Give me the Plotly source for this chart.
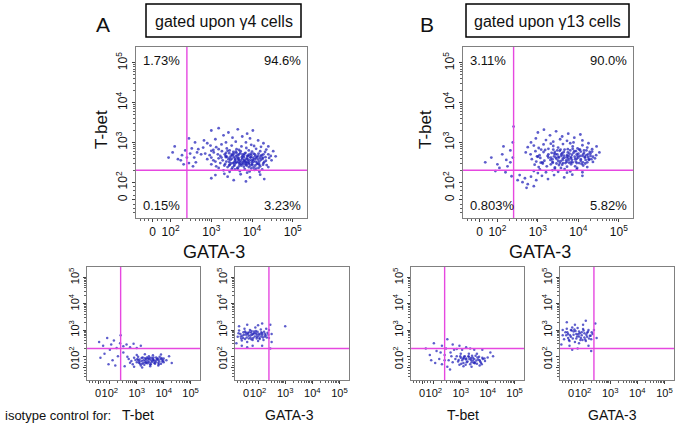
import math
import plotly.graph_objects as go

W, H = 678, 427

# ---------------- data (display units on a biexponential scale: 2 -> 10^2, 3 -> 10^3 ...) -------------
tick_vals = [1.56, 2, 3, 4, 5]
tick_text = ["0", "10<sup>2</sup>", "10<sup>3</sup>", "10<sup>4</sup>", "10<sup>5</sup>"]

# gate positions (display units)
gate_x = 2.4
gate_y = 2.3

pct_g4 = ["1.73%", "94.6%", "0.15%", "3.23%"]      # UL, UR, LL, LR
pct_g13 = ["3.11%", "90.0%", "0.803%", "5.82%"]

# gamma4 cells: GATA-3 (x) vs T-bet (y), values x100
g4_points = [
    (300,330),(318,336),(342,325),(365,333),(388,322),(402,330),(330,318),(352,312),(376,315),(395,310),
    (310,308),(282,305),(415,305),(428,298),(290,298),(336,300),(360,302),(385,300),
    (298,292),(312,288),(325,295),(338,285),(350,292),(362,283),(374,290),(386,286),(398,294),(410,284),
    (422,289),(435,282),(305,281),(318,283),(345,280),(368,281),(392,280),(405,291),(280,287),(268,283),(440,290),
    (285,272),(296,268),(306,275),(316,270),(326,278),(335,266),(344,273),(352,268),(360,277),(368,270),
    (376,265),(384,274),(392,269),(400,277),(408,266),(416,272),(424,268),(432,276),(440,270),(300,279),
    (322,266),(340,279),(356,272),(372,278),(388,266),(404,272),(420,278),(446,266),(275,270),(265,275),
    (290,258),(300,262),(310,252),(318,260),(328,255),(336,263),(344,251),(350,259),(358,254),(364,262),
    (370,250),(376,258),(382,253),(388,261),(394,255),(400,250),(406,258),(412,263),(418,252),(426,259),
    (434,254),(442,261),(305,255),(325,262),(347,256),(366,257),(385,251),(397,263),(415,257),(430,251),
    (355,264),(375,262),(390,257),(372,254),(362,251),(380,263),
    (300,245),(312,240),(322,248),(332,242),(340,238),(348,247),(356,241),(364,236),(372,245),(380,239),
    (388,248),(396,242),(404,237),(412,246),(420,240),(428,248),(436,243),(318,236),(345,244),(368,240),
    (385,244),(400,246),(416,236),(376,249),(360,248),(392,238),(352,237),(408,242),(440,238),
    (330,230),(345,226),(358,232),(370,228),(382,233),(394,227),(406,231),(418,226),(365,234),(388,224),
    (410,234),(350,233),(425,232),(398,235),
    (310,218),(340,214),(372,220),(395,212),(420,219),(355,205),(300,210),(430,208),(385,202),(332,221),
    (195,262),(205,275),(218,258),(228,268),(236,280),(210,290),(225,255),(240,262),(248,272),(252,285),
    (258,262),(262,250),(245,248),(232,245),(255,240),(245,310),(260,300),
    (452,278),(458,265),(448,255),
    (345,262),(353,248),(361,266),(369,246),(377,270),(383,247),(391,266),(399,255),(407,270),(413,249),
    (421,266),(427,244),(337,252),(333,270),(397,272),(409,252),(371,273),(359,257),(381,256),(403,262),
    (393,249),(365,268),(351,270),(419,261),(433,263),(387,242),(379,252),(367,261),(357,244),(401,243),
    (334,246),(342,258),(348,266),(356,250),(362,274),(368,256),(374,242),(380,268),(386,258),(392,246),
    (398,268),(404,252),(410,260),(416,246),(422,256),(428,270),(336,274),(344,242),(358,260),(366,250),
    (378,246),(390,252),(402,256),(414,266),(426,262),(338,264),(354,276),(382,272),(396,262),(418,244),
]

# gamma13 cells
g13_points = [
    (300,325),(315,332),(330,318),(345,328),(360,315),(375,322),(390,312),(405,320),(320,306),(338,302),
    (355,308),(372,304),(388,300),(410,305),(295,310),(425,298),(283,300),
    (290,292),(302,286),(314,295),(326,284),(338,291),(350,287),(362,296),(374,283),(386,290),(398,285),
    (410,293),(422,287),(434,283),(308,282),(332,297),(356,282),(380,298),(404,282),(275,288),(445,290),
    (282,270),(294,278),(304,268),(314,276),(324,266),(334,274),(344,270),(354,279),(364,267),(374,275),
    (384,269),(394,278),(404,266),(414,274),(424,270),(434,277),(444,268),(298,265),(318,281),(340,265),
    (360,273),(380,280),(400,272),(420,280),(430,266),(270,275),(452,275),
    (285,258),(296,252),(306,261),(316,254),(326,262),(336,251),(346,259),(356,253),(366,262),(376,256),
    (386,250),(396,259),(406,254),(416,262),(426,256),(436,251),(311,250),(331,256),(351,264),(371,251),
    (391,264),(411,250),(441,260),(300,264),(361,256),(381,260),
    (292,244),(302,238),(312,247),(322,240),(332,245),(342,237),(352,243),(362,248),(372,239),(382,245),
    (392,240),(402,248),(412,242),(422,238),(337,249),(357,236),(377,249),(397,236),(417,247),(307,249),
    (290,228),(305,232),(320,225),(336,230),(350,226),(366,233),(380,227),(396,232),(410,225),(300,223),
    (342,234),(372,224),
    (255,218),(268,210),(262,200),(275,195),(283,214),(296,205),(310,216),(325,208),(340,218),(365,212),
    (385,219),(410,216),(272,186),(290,190),(250,205),
    (170,250),(185,262),(200,245),(212,270),(222,256),(232,280),(238,262),(225,240),(205,236),(215,290),
    (240,340),(238,300),(232,250),
    (220,225),(235,215),(195,228),
    (340,272),(352,262),(364,276),(376,266),(388,274),(400,262),(412,270),(424,263),(346,247),(358,266),
    (370,255),(382,263),(394,252),(406,277),(418,256),(430,272),(336,258),(348,280),(360,244),(372,268),
    (384,256),(396,270),(408,246),(420,268),(326,270),
    (332,262),(342,276),(350,254),(358,270),(366,282),(374,260),(382,250),(390,278),(398,266),(406,258),
    (414,280),(422,250),(428,276),(436,264),(344,262),(354,248),(362,260),(378,272),(392,258),(402,282),
    (416,264),(426,258),(338,282),(368,248),(386,284),(410,266),(432,258),(348,270),(372,264),(396,248),
]

# isotype controls
g4_iso_tbet = [
    (270,190),(280,182),(290,195),(300,178),(310,188),(320,172),(330,193),(340,181),(350,169),(360,190),
    (370,178),(380,186),(390,172),(400,192),(285,170),(305,198),(325,185),(345,200),(365,175),(385,198),
    (295,186),(315,165),(335,175),(355,195),(375,190),(395,180),(275,176),(410,185),(300,205),(330,208),
    (360,204),(390,207),(290,160),(320,158),(350,162),(380,165),(345,188),(365,183),(355,178),(335,190),
    (310,180),(380,176),(400,178),(265,198),(325,176),
    (340,174),(352,186),(362,196),(372,184),(384,180),(394,188),(332,184),(318,194),(305,185),(346,178),
    (160,255),(175,240),(190,270),(205,245),(215,260),(225,232),(238,250),(250,238),(262,245),(275,235),
    (288,248),(300,232),(315,240),(240,280),(200,225),(180,210),(165,195),(210,185),(230,200),(250,215),
    (195,170),(220,165),(255,162),(420,200),(430,175),
    (302,190),(312,172),(322,196),(332,178),(342,192),(352,170),(362,186),(372,196),(382,170),(392,194),
    (308,176),(328,168),(348,194),(368,172),(388,190),(318,182),(338,196),(358,182),(378,192),(398,184),
]
g4_iso_gata3 = [
    (125,275),(135,285),(145,270),(155,290),(165,278),(175,265),(185,295),(195,282),(205,270),(215,288),
    (225,276),(235,290),(130,298),(150,305),(170,300),(190,310),(210,302),(230,305),(140,260),(160,255),
    (180,262),(200,258),(220,262),(240,270),(128,288),(148,282),(168,292),(188,276),(208,284),(228,280),
    (138,268),(158,272),(178,282),(198,294),(218,272),(238,282),(152,295),(172,272),(192,288),(212,292),
    (182,285),(162,285),(202,278),(175,290),(195,268),
    (120,250),(130,315),(160,320),(200,318),(215,325),(240,300),(245,320),(250,285),(215,240),(180,240),
    (160,235),(250,255),(300,315),(245,230),(140,240),
    (142,278),(152,266),(162,290),(172,280),(182,270),(192,296),(202,286),(212,276),(222,294),(232,272),
    (146,292),(166,268),(186,288),(206,266),(226,286),(156,282),(176,296),(196,274),(216,282),(136,276),
]
g13_iso_tbet = [
    (280,190),(290,180),(300,195),(310,175),(320,188),(330,198),(340,178),(350,190),(360,172),(370,185),
    (380,195),(295,168),(315,200),(335,170),(355,202),(375,176),(305,185),(325,180),(345,195),(365,188),
    (285,200),(300,210),(330,210),(360,210),(390,182),(400,196),(270,178),(310,162),(340,160),(370,165),
    (320,192),(338,186),(352,178),(312,192),(345,184),
    (170,230),(185,205),(200,250),(210,220),(220,190),(230,240),(240,205),(245,230),(250,265),(255,185),
    (262,215),(270,245),(275,225),(285,228),(295,240),(305,225),(320,235),(335,230),(350,225),(205,175),
    (230,170),(250,160),(260,150),(420,200),(410,215),(265,200),(240,185),(225,215),(190,185),(380,225),
    (292,186),(302,172),(312,198),(322,178),(332,190),(342,202),(352,174),(362,196),(372,180),(382,190),
    (298,200),(318,168),(338,194),(358,184),(378,170),(308,192),(328,200),(348,176),(368,198),(388,192),
]
g13_iso_gata3 = [
    (125,280),(135,292),(145,270),(155,300),(165,282),(175,268),(185,295),(195,280),(205,272),(215,290),
    (225,278),(130,265),(150,258),(170,255),(190,262),(210,258),(230,265),(140,305),(160,310),(180,308),
    (200,304),(220,300),(145,285),(165,295),(185,276),(205,288),(175,285),(195,292),(155,275),(215,275),
    (235,285),(125,300),(185,250),(170,320),(200,320),
    (120,245),(150,240),(220,240),(240,300),(245,325),(210,335),(180,230),(230,220),(160,225),(250,270),
    (140,330),
    (142,292),(152,280),(162,268),(172,296),(182,284),(192,270),(202,298),(212,282),(222,268),(232,292),
    (148,262),(168,302),(188,288),(208,264),(228,278),(138,280),(158,298),(178,276),(198,262),(218,294),
]

# ---------------- layout helpers -------------
FONT = "Liberation Sans, Arial, Helvetica, sans-serif"
DOT = "rgba(30,30,185,0.72)"
GATE = "#e648e0"
AXC = "#808080"

def fx(p):
    return p / W

def fy(p):
    return 1 - p / H

minor_vals = [1.25, 1.35, 1.45, 1.67, 1.78, 1.89]
for d in (2, 3, 4):
    for k in range(2, 10):
        minor_vals.append(d + math.log10(k))

panels = [
    # points, x-domain px, y-domain px (top, bottom), tick font size, marker size
    (g4_points,     (136, 307), (47, 218), 12, 2.8),
    (g13_points,    (463, 633), (47, 218), 12, 2.8),
    (g4_iso_tbet,   (87, 200),  (267, 380), 11, 2.5),
    (g4_iso_gata3,  (235, 349), (267, 380), 11, 2.5),
    (g13_iso_tbet,  (411, 524), (267, 380), 11, 2.5),
    (g13_iso_gata3, (560, 674), (267, 380), 11, 2.5),
]

fig = go.Figure()
layout = {}
shapes = []
for i, (pts, (x0, x1), (yt, yb), tfs, msize) in enumerate(panels, start=1):
    sx = "" if i == 1 else str(i)
    xs = [p[0] / 100 for p in pts]
    ys = [p[1] / 100 for p in pts]
    fig.add_trace(go.Scatter(
        x=xs, y=ys, mode="markers", xaxis="x" + sx, yaxis="y" + sx,
        marker=dict(size=msize, color=DOT, line=dict(width=0)),
        showlegend=False, hoverinfo="skip"))
    common = dict(
        showline=True, linecolor=AXC, linewidth=1, mirror=True,
        showgrid=False, zeroline=False,
        tickmode="array", tickvals=tick_vals, ticktext=tick_text,
        ticks="outside", ticklen=3, tickwidth=1, tickcolor="#404040",
        tickfont=dict(family=FONT, size=tfs, color="#111"),
        minor=dict(tickmode="array", tickvals=minor_vals, ticks="outside",
                   ticklen=2, tickwidth=1, tickcolor="#606060"),
        fixedrange=True,
    )
    layout["xaxis" + sx] = dict(common, domain=[fx(x0), fx(x1)], range=[1.15, 5.35],
                                anchor="y" + sx, tickangle=0)
    layout["yaxis" + sx] = dict(common, domain=[fy(yb), fy(yt)], range=[1.1, 5.4],
                                anchor="x" + sx, tickangle=-90)
    xr = "x" + sx
    yr = "y" + sx
    shapes.append(dict(type="line", xref=xr, yref=yr + " domain", x0=gate_x, x1=gate_x,
                       y0=0, y1=1, line=dict(color=GATE, width=1.4)))
    shapes.append(dict(type="line", xref=xr + " domain", yref=yr, x0=0, x1=1,
                       y0=gate_y, y1=gate_y, line=dict(color=GATE, width=1.4)))

# title boxes
for (bx0, bx1) in [(146, 301), (466, 629)]:
    shapes.append(dict(type="rect", xref="paper", yref="paper", x0=fx(bx0), x1=fx(bx1),
                       y0=fy(37), y1=fy(4), line=dict(color="black", width=1.5)))

annotations = []

def ann(text, x, y, size, xanchor="center", yanchor="middle", angle=0, **kw):
    d = dict(text=text, x=x, y=y, xref=kw.pop("xref", "paper"), yref=kw.pop("yref", "paper"),
             showarrow=False, xanchor=xanchor, yanchor=yanchor, textangle=angle,
             font=dict(family=FONT, size=size, color="#111"))
    d.update(kw)
    annotations.append(d)

ann("A", fx(103), fy(25), 21)
ann("B", fx(427), fy(25), 21)
ann("gated upon \u03b34 cells", fx(223.5), fy(21), 16)
ann("gated upon \u03b313 cells", fx(547.5), fy(21), 16)

# axis titles
ann("T-bet", fx(101), fy(130), 17, angle=-90)
ann("T-bet", fx(425), fy(130), 17, angle=-90)
ann("GATA-3", fx(214), fy(252), 18)
ann("GATA-3", fx(540), fy(252), 18)
ann("isotype control for:", fx(3), fy(415), 13, xanchor="left")
ann("T-bet", fx(138), fy(415), 14)
ann("GATA-3", fx(289), fy(415), 14)
ann("T-bet", fx(463), fy(415), 14)
ann("GATA-3", fx(612), fy(415), 14)

# quadrant percentages
for sx, pct in (("", pct_g4), ("2", pct_g13)):
    xr = "x" + sx + " domain"
    yr = "y" + sx + " domain"
    ann(pct[0], 0.03, 0.975, 13, xanchor="left", yanchor="top", xref=xr, yref=yr)
    ann(pct[1], 0.975, 0.975, 13, xanchor="right", yanchor="top", xref=xr, yref=yr)
    ann(pct[2], 0.03, 0.015, 13, xanchor="left", yanchor="bottom", xref=xr, yref=yr)
    ann(pct[3], 0.975, 0.015, 13, xanchor="right", yanchor="bottom", xref=xr, yref=yr)

fig.update_layout(
    width=W, height=H, margin=dict(l=0, r=0, t=0, b=0),
    paper_bgcolor="white", plot_bgcolor="white",
    shapes=shapes, annotations=annotations, **layout,
)

fig.write_html("out.html", config={"displayModeBar": False},
               post_script="document.body.style.margin='0';")
